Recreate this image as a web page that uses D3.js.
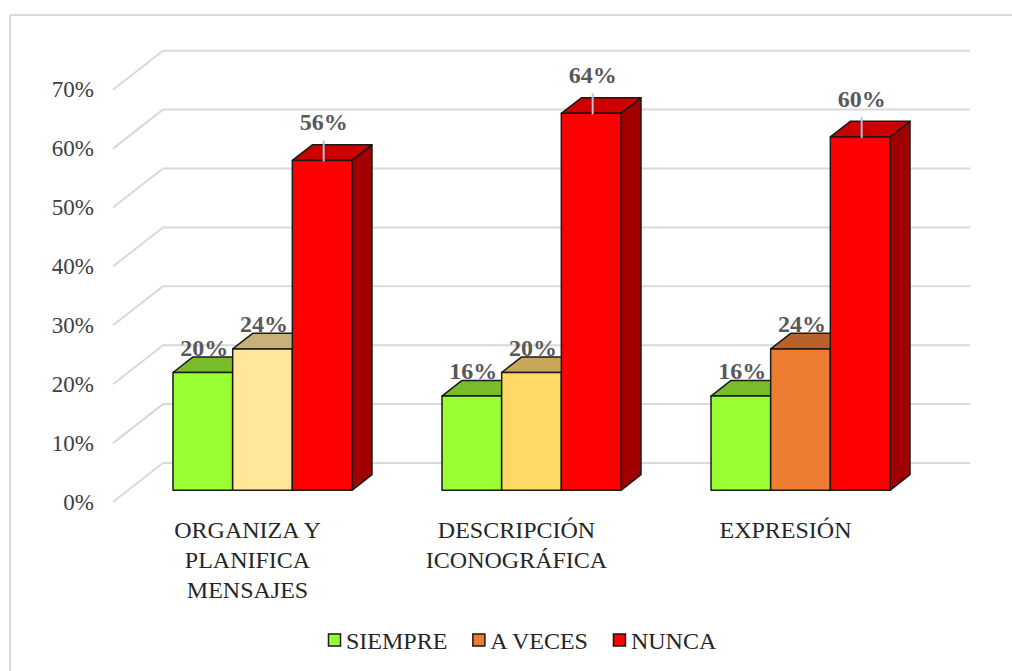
<!DOCTYPE html>
<html>
<head>
<meta charset="utf-8">
<script src="https://cdn.jsdelivr.net/npm/d3@7"></script>
<style>
  html, body { margin: 0; padding: 0; background: #ffffff; }
  svg { display: block; }
</style>
</head>
<body>
<svg id="chart" width="1012" height="671"></svg>
<script>
// ---- data ----
const categories = ["ORGANIZA Y PLANIFICA MENSAJES", "DESCRIPCIÓN ICONOGRÁFICA", "EXPRESIÓN"];
const categoryLines = [["ORGANIZA Y", "PLANIFICA", "MENSAJES"], ["DESCRIPCIÓN", "ICONOGRÁFICA"], ["EXPRESIÓN"]];
const seriesNames = ["SIEMPRE", "A VECES", "NUNCA"];
const siempre = [0.20, 0.16, 0.16];
const aVeces = [0.24, 0.20, 0.24];
const nunca = [0.56, 0.64, 0.60];
const yTicks = [0, 0.1, 0.2, 0.3, 0.4, 0.5, 0.6, 0.7];
const yTickLabels = ["0%", "10%", "20%", "30%", "40%", "50%", "60%", "70%"];

// ---- styles ----
const FONT = "Liberation Serif";
const legendColors = ["#99FF33", "#ED7D31", "#FF0000"];
const faceColors = [
  ["#99FF33", "#99FF33", "#99FF33"],
  ["#FFE699", "#FFD966", "#ED7D31"],
  ["#FF0000", "#FF0000", "#FF0000"]
];
const topColors = [
  ["#78BC2A", "#78BC2A", "#78BC2A"],
  ["#C8B07A", "#C9A65A", "#B8612A"],
  ["#CC0000", "#CC0000", "#CC0000"]
];
const sideColors = [
  ["#6AA626", "#6AA626", "#6AA626"],
  ["#B89E60", "#B8954A", "#A85522"],
  ["#A00000", "#A00000", "#A00000"]
];

const svg = d3.select("#chart");
const W = 1012, H = 671;

// frame (left and top edge visible)
svg.append("line").attr("x1", 10).attr("y1", 15).attr("x2", W).attr("y2", 15)
  .attr("stroke", "#d9d9d9").attr("stroke-width", 2);
svg.append("line").attr("x1", 10).attr("y1", 15).attr("x2", 10).attr("y2", H)
  .attr("stroke", "#d9d9d9").attr("stroke-width", 2);

// ---- scales ----
const frontLeft = 113, frontRight = 920;
const DX = 50, DY = -39;      // full depth projection
const barD0 = 0.3, barD1 = 0.7;

const x = d3.scaleBand().domain(categories).range([frontLeft, frontRight])
  .paddingInner(0.3346).paddingOuter(0.1673);
const xs = d3.scaleBand().domain(seriesNames).range([0, x.bandwidth()]);
const y = d3.scaleLinear().domain([0, 0.7]).range([502, 89.7]);

const proj = (xf, v, d) => [xf + d * DX, y(v) + d * DY];

// ---- gridlines (side wall diagonal + back wall) ----
const grid = svg.append("g");
yTicks.forEach(t => {
  const p0 = proj(frontLeft, t, 0), p1 = proj(frontLeft, t, 1), p2 = proj(frontRight, t, 1);
  grid.append("polyline")
    .attr("points", [p0, p1, p2].map(p => p.join(",")).join(" "))
    .attr("fill", "none").attr("stroke", "#d9d9d9").attr("stroke-width", 2);
});

// tick labels
svg.append("g").selectAll("text").data(yTicks).join("text")
  .attr("x", 94).attr("y", d => y(d))
  .attr("text-anchor", "end").attr("dominant-baseline", "central")
  .attr("font-family", FONT)
  .attr("font-size", 23).attr("fill", "#404040")
  .text((d, i) => yTickLabels[i]);

// ---- bars ----
const seriesValues = [siempre, aVeces, nunca];
const bars = svg.append("g");
const labels = svg.append("g");
const poly = pts => pts.map(p => p.join(",")).join(" ");

categories.forEach((cat, ci) => {
  seriesNames.forEach((s, si) => {
    const v = seriesValues[si][ci];
    const x0 = x(cat) + xs(s), x1 = x0 + xs.bandwidth();
    const g = bars.append("g")
      .attr("stroke", "#1a1a1a").attr("stroke-width", 1.5).attr("stroke-linejoin", "round");
    g.append("polygon")
      .attr("points", poly([proj(x1, v, barD0), proj(x1, 0, barD0), proj(x1, 0, barD1), proj(x1, v, barD1)]))
      .attr("fill", sideColors[si][ci]);
    g.append("polygon")
      .attr("points", poly([proj(x0, v, barD0), proj(x1, v, barD0), proj(x1, v, barD1), proj(x0, v, barD1)]))
      .attr("fill", topColors[si][ci]);
    g.append("polygon")
      .attr("points", poly([proj(x0, v, barD0), proj(x1, v, barD0), proj(x1, 0, barD0), proj(x0, 0, barD0)]))
      .attr("fill", faceColors[si][ci]);

    const ft = proj(x0, v, barD0);
    const cx = (proj(x0, v, barD0)[0] + proj(x1, v, barD0)[0]) / 2 + 1.5;
    const lift = si === 2 ? 30 : 17;
    if (si === 2) {
      labels.append("line")
        .attr("x1", cx).attr("x2", cx)
        .attr("y1", ft[1] - 20).attr("y2", ft[1] + 1)
        .attr("stroke", "#b8c4d0").attr("stroke-width", 2);
    }
    labels.append("text")
      .attr("x", cx).attr("y", ft[1] - lift)
      .attr("text-anchor", "middle")
      .attr("font-family", FONT)
      .attr("font-size", 24).attr("font-weight", "bold").attr("fill", "#595959")
      .text(d3.format(".0%")(v));
  });
});

// ---- category labels ----
const catG = svg.append("g");
categories.forEach((cat, ci) => {
  const t = catG.append("text")
    .attr("x", x(cat) + x.bandwidth() / 2)
    .attr("y", 538)
    .attr("text-anchor", "middle")
    .attr("font-family", FONT)
    .attr("font-size", 24).attr("fill", "#262626");
  categoryLines[ci].forEach((ln, li) => {
    t.append("tspan").attr("x", x(cat) + x.bandwidth() / 2)
      .attr("dy", li === 0 ? 0 : 30).text(ln);
  });
});

// ---- legend ----
const leg = svg.append("g");
let lx = 328;
seriesNames.forEach((s, i) => {
  leg.append("rect").attr("x", lx + 0.5).attr("y", 634).attr("width", 12).attr("height", 12)
    .attr("fill", legendColors[i]).attr("stroke", "#1a1a1a").attr("stroke-width", 1.5);
  const t = leg.append("text").attr("x", lx + 18).attr("y", 649)
    .attr("font-family", FONT)
    .attr("font-size", 24).attr("fill", "#262626").text(s);
  lx += 18 + t.node().getComputedTextLength() + 25;
});
</script>
</body>
</html>
